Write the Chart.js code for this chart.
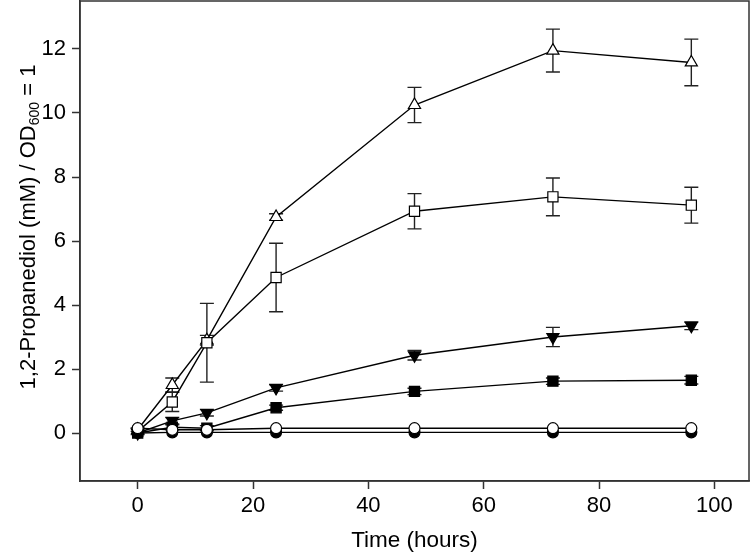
<!DOCTYPE html>
<html>
<head>
<meta charset="utf-8">
<script src="https://cdn.jsdelivr.net/npm/chart.js@4"></script>
<style>
  html, body { margin: 0; padding: 0; background: #fff; }
  #wrap { width: 750px; height: 554px; }
</style>
</head>
<body>
<div id="wrap"><canvas id="plot" width="750" height="554"></canvas></div>
<script>
// time points (hours)
var times = [0, 6, 12, 24, 48, 72, 96];

// series values
var openTri = [0.10, 1.50, 2.90, 6.75, 10.25, 11.95, 11.58];
var openTriErr = [0.05, 0.22, 0.15, 0.10, 0.55, 0.67, 0.73];
var openSq = [0.05, 0.97, 2.82, 4.86, 6.93, 7.38, 7.12];
var openSqErr = [0.10, 0.30, 1.23, 1.07, 0.55, 0.59, 0.56];
var downTri = [0.00, 0.38, 0.63, 1.41, 2.43, 3.00, 3.35];
var downTriErr = [0.00, 0.10, 0.10, 0.10, 0.15, 0.30, 0.12];
var fillSq = [0.00, 0.18, 0.15, 0.79, 1.30, 1.62, 1.65];
var fillSqErr = [0.00, 0.08, 0.08, 0.08, 0.10, 0.10, 0.12];
var openCirc = [0.15, 0.10, 0.10, 0.15, 0.15, 0.15, 0.15];
var fillCirc = [0.00, 0.02, 0.02, 0.02, 0.02, 0.02, 0.02];

// ticks
var xTicks = [0, 20, 40, 60, 80, 100];
var yTicks = [0, 2, 4, 6, 8, 10, 12];

var FONT = "'Liberation Sans', Arial, sans-serif";
var AXIS_COLOR = '#333';

function pts(ys) {
    return times.map(function (t, i) { return { x: t, y: ys[i] }; });
}

function makeSet(label, ys, errs, style, filled, rotation, radius, order) {
    return {
        label: label,
        data: pts(ys),
        errs: errs,
        borderColor: '#000',
        borderWidth: 1.4,
        pointStyle: style,
        pointRotation: rotation,
        pointRadius: radius,
        pointBorderWidth: 1.2,
        pointBorderColor: '#000',
        pointBackgroundColor: filled ? '#000' : '#fff',
        fill: false,
        tension: 0,
        order: order
    };
}

function noPad(s) {
    s.paddingTop = 0; s.paddingBottom = 0;
    s.paddingLeft = 0; s.paddingRight = 0;
}

// error bars drawn under the markers
var errorBars = {
    id: 'errorBars',
    beforeDatasetsDraw: function (chart) {
        var ctx = chart.ctx;
        var xs = chart.scales.x, ys = chart.scales.y;
        ctx.save();
        ctx.strokeStyle = '#222';
        ctx.lineWidth = 1.4;
        chart.data.datasets.forEach(function (ds) {
            if (!ds.errs) return;
            ds.data.forEach(function (p, i) {
                var e = ds.errs[i];
                if (!e) return;
                var px = xs.getPixelForValue(p.x);
                var top = ys.getPixelForValue(p.y + e);
                var bot = ys.getPixelForValue(p.y - e);
                ctx.beginPath();
                ctx.moveTo(px, top); ctx.lineTo(px, bot);
                ctx.moveTo(px - 7, top); ctx.lineTo(px + 7, top);
                ctx.moveTo(px - 7, bot); ctx.lineTo(px + 7, bot);
                ctx.stroke();
            });
        });
        ctx.restore();
    }
};

// frame and y title with subscript
var frame = {
    id: 'frame',
    afterDraw: function (chart) {
        var ctx = chart.ctx, a = chart.chartArea;
        ctx.save();
        ctx.strokeStyle = AXIS_COLOR;
        ctx.lineWidth = 1.5;
        ctx.strokeRect(a.left, a.top, a.right - a.left, a.bottom - a.top);

        // y axis title
        var parts = [
            { t: '1,2-Propanediol (mM) / OD', f: '22px ' + FONT, dy: 0 },
            { t: '600', f: '14px ' + FONT, dy: 6 },
            { t: ' = 1', f: '22px ' + FONT, dy: 0 }
        ];
        var total = 0;
        parts.forEach(function (p) { ctx.font = p.f; p.w = ctx.measureText(p.t).width; total += p.w; });
        ctx.translate(29, 227);
        ctx.rotate(-Math.PI / 2);
        ctx.fillStyle = '#000';
        ctx.textBaseline = 'middle';
        ctx.textAlign = 'left';
        var x = -total / 2;
        parts.forEach(function (p) {
            ctx.font = p.f;
            ctx.fillText(p.t, x, p.dy);
            x += p.w;
        });
        ctx.restore();
    }
};

var ctx = document.getElementById('plot').getContext('2d');
var chart = new Chart(ctx, {
    type: 'line',
    data: {
        datasets: [
            makeSet('open circle', openCirc, null, 'circle', false, 0, 5.5, 1),
            makeSet('filled circle', fillCirc, null, 'circle', true, 0, 5.5, 2),
            makeSet('open square', openSq, openSqErr, 'rect', false, 0, 7.2, 3),
            makeSet('open triangle', openTri, openTriErr, 'triangle', false, 0, 7, 4),
            makeSet('filled square', fillSq, fillSqErr, 'rect', true, 0, 7.2, 5),
            makeSet('filled triangle', downTri, downTriErr, 'triangle', true, 180, 7, 6)
        ]
    },
    options: {
        responsive: false,
        animation: false,
        devicePixelRatio: 1,
        layout: { autoPadding: false, padding: { left: 0, top: 1, right: 1, bottom: 0 } },
        plugins: {
            legend: { display: false },
            tooltip: { enabled: false }
        },
        scales: {
            x: {
                type: 'linear',
                min: -10,
                max: 106,
                afterBuildTicks: function (s) { s.ticks = xTicks.map(function (v) { return { value: v }; }); },
                afterFit: function (s) { s.height = 73; noPad(s); },
                grid: { drawOnChartArea: false, tickLength: 8, tickColor: AXIS_COLOR, tickWidth: 1.5 },
                border: { color: AXIS_COLOR, width: 1.5 },
                ticks: { color: '#000', font: { family: FONT, size: 22 }, padding: 4, maxRotation: 0 },
                title: { display: true, text: 'Time (hours)', color: '#000', font: { family: FONT, size: 22.5 }, padding: { top: 0, bottom: 0 } }
            },
            y: {
                type: 'linear',
                min: -1.5,
                max: 13.5,
                afterBuildTicks: function (s) { s.ticks = yTicks.map(function (v) { return { value: v }; }); },
                afterFit: function (s) { s.width = 80; noPad(s); },
                grid: { drawOnChartArea: false, tickLength: 8, tickColor: AXIS_COLOR, tickWidth: 1.5 },
                border: { color: AXIS_COLOR, width: 1.5 },
                ticks: { color: '#000', font: { family: FONT, size: 22 }, padding: 6 }
            }
        }
    },
    plugins: [errorBars, frame]
});
</script>
</body>
</html>
